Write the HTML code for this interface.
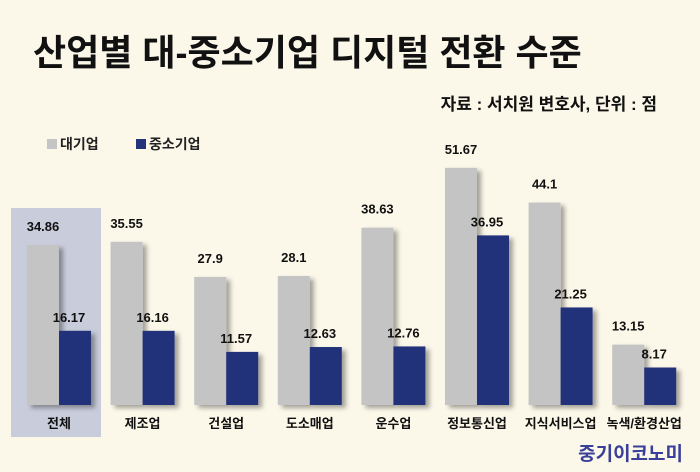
<!DOCTYPE html>
<html><head><meta charset="utf-8"><style>
body{margin:0;width:700px;height:467px;overflow:hidden;background:#fbf7e9;font-family:"Liberation Sans","Noto Sans CJK KR",sans-serif;}
svg text{font-family:"Liberation Sans","Noto Sans CJK KR",sans-serif;}
</style></head><body>
<svg width="700" height="467">
<defs><filter id="sh" x="-20%" y="-10%" width="150%" height="130%"><feDropShadow dx="4" dy="3" stdDeviation="2.5" flood-color="#000" flood-opacity="0.35"/></filter></defs>
<text x="33" y="65" font-size="36" font-weight="bold" fill="#111">산업별 대-중소기업 디지털 전환 수준</text>
<text x="657" y="110" font-size="17" font-weight="bold" fill="#111" text-anchor="end">자료 : 서치원 변호사, 단위 : 점</text>
<g>
<rect x="47" y="139" width="10" height="10" fill="#c4c4c4"/>
<text x="60" y="149" font-size="14" font-weight="bold" fill="#222">대기업</text>
<rect x="136" y="139" width="10" height="10" fill="#24337a"/>
<text x="149" y="149" font-size="14" font-weight="bold" fill="#222">중소기업</text>
</g>
<rect x="11" y="208" width="90" height="229" fill="#c9cddb"/>
<g id="bars"></g>
<text x="683" y="460" font-size="19" font-weight="bold" fill="#3a3f9a" text-anchor="end">중기이코노미</text>
</svg>
<script>
const categories=["전체","제조업","건설업","도소매업","운수업","정보통신업","지식서비스업","녹색/환경산업"];
const largeValues=[34.86,35.55,27.9,28.1,38.63,51.67,44.1,13.15];
const smeValues=[16.17,16.16,11.57,12.63,12.76,36.95,21.25,8.17];
const largeLabels=["34.86","35.55","27.9","28.1","38.63","51.67","44.1","13.15"];
const smeLabels=["16.17","16.16","11.57","12.63","12.76","36.95","21.25","8.17"];
const base=405, k=4.59, x0=27, step=83.6, bw=32;
const y=v=>base-v*k;
const g=document.getElementById('bars');
const NS="http://www.w3.org/2000/svg";
function mk(t,a){const e=document.createElementNS(NS,t);for(const n in a)e.setAttribute(n,a[n]);g.appendChild(e);return e;}
categories.forEach((c,i)=>{
 const xl=x0+i*step, xs=xl+bw;
 let r=mk('rect',{x:xl,y:y(largeValues[i]),width:bw,height:largeValues[i]*k,fill:'#c4c4c4',filter:'url(#sh)'});
 
 
 r=mk('rect',{x:xs,y:y(smeValues[i]),width:bw,height:smeValues[i]*k,fill:'#24337a',filter:'url(#sh)'});
 
 
 let t=mk('text',{x:xl+bw/2,y:y(largeValues[i])-14,'font-size':13,'font-weight':'bold',fill:'#111','text-anchor':'middle'});
 t.textContent=largeLabels[i];
 
 
 t=mk('text',{x:xs+bw/2-6,y:y(smeValues[i])-9,'font-size':13,'font-weight':'bold',fill:'#111','text-anchor':'middle'});
 t.textContent=smeLabels[i];
 
 
 t=mk('text',{x:xl+bw,y:428,'font-size':13,'font-weight':'bold',fill:'#111','text-anchor':'middle'});
 t.textContent=c;
 
 
});
</script>
</body></html>
